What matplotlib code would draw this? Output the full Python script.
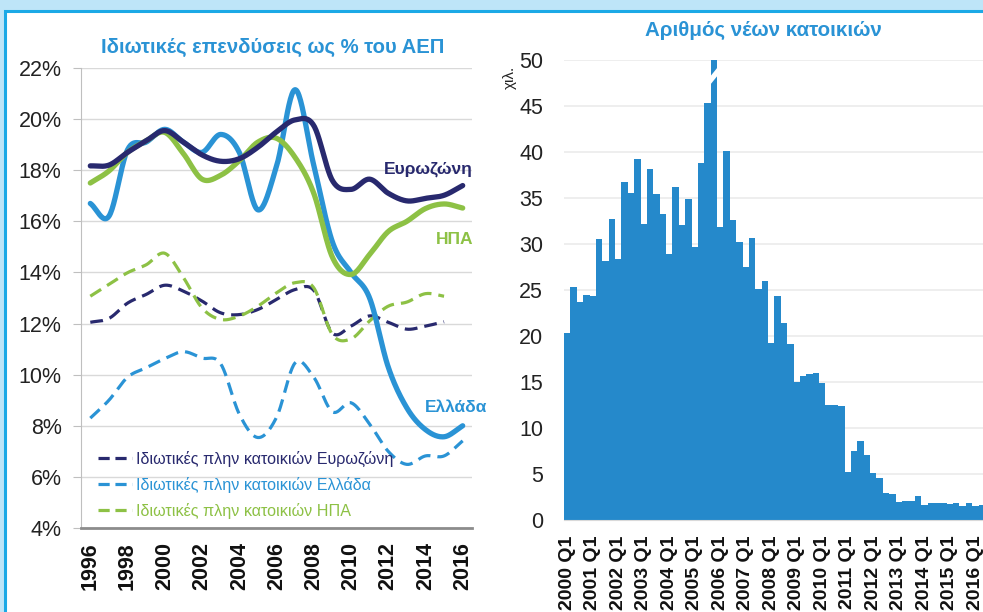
import numpy as np
import matplotlib
matplotlib.use("Agg")
import matplotlib.pyplot as plt
from matplotlib.patches import Rectangle, Polygon
from matplotlib.lines import Line2D

plt.rcParams['font.family'] = ['Liberation Sans', 'DejaVu Sans']

# --- data: private investment as % of GDP ---
years = list(range(1996, 2017))
ez_total = [18.17, 18.2, 18.7, 19.15, 19.55, 19.1, 18.6, 18.35, 18.45, 18.9, 19.5,
            19.97, 19.75, 17.6, 17.25, 17.65, 17.1, 16.8, 16.9, 17.02, 17.4]
gr_total = [16.7, 16.2, 18.8, 19.1, 19.6, 19.1, 18.7, 19.4, 18.7, 16.45, 18.15,
            21.15, 18.2, 15.2, 14.0, 13.0, 10.3, 8.7, 7.85, 7.57, 8.0]
us_total = [17.5, 17.97, 18.7, 19.15, 19.48, 18.65, 17.65, 17.8, 18.37, 19.1, 19.25,
            18.5, 17.1, 14.6, 13.92, 14.7, 15.6, 16.0, 16.5, 16.68, 16.52]

years_nr = list(range(1996, 2016))
ez_nonres = [12.05, 12.2, 12.8, 13.14, 13.5, 13.27, 12.88, 12.42, 12.35, 12.55,
             12.94, 13.33, 13.3, 11.63, 11.9, 12.3, 12.05, 11.78, 11.9, 12.07]
us_nonres = [13.07, 13.53, 13.99, 14.3, 14.75, 13.8, 12.61, 12.16, 12.29, 12.68,
             13.2, 13.6, 13.4, 11.57, 11.4, 12.1, 12.68, 12.84, 13.17, 13.07]
gr_nonres = [8.3, 9.0, 9.9, 10.27, 10.63, 10.9, 10.65, 10.43, 8.46, 7.54, 8.33,
             10.46, 9.9, 8.55, 8.9, 8.07, 7.0, 6.49, 6.82, 6.82, 7.41]

labels_nonres = ["Ιδιωτικές πλην κατοικιών Ευρωζώνη",
                 "Ιδιωτικές πλην κατοικιών Ελλάδα",
                 "Ιδιωτικές πλην κατοικιών ΗΠΑ"]

# --- data: new dwellings (thousands), quarterly from 2000 Q1 ---
dwellings = [20.3, 25.3, 23.7, 24.5, 24.3, 30.5, 28.1, 32.7, 28.4, 36.7, 35.5, 39.2,
             32.2, 38.2, 35.4, 33.3, 28.9, 36.2, 32.1, 34.9, 29.7, 38.8, 45.3, 57.0,
             31.8, 40.1, 32.6, 30.2, 27.5, 30.7, 25.1, 26.0, 19.2, 24.3, 21.4, 19.1,
             15.0, 15.7, 15.9, 16.0, 14.9, 12.5, 12.5, 12.4, 5.2, 7.5, 8.6, 7.1,
             5.1, 4.6, 2.9, 2.85, 2.0, 2.05, 2.05, 2.65, 1.65, 1.8, 1.85, 1.8,
             1.7, 1.8, 1.5, 1.9, 1.5, 1.6]
quarter_labels = [f"{y} Q1" for y in range(2000, 2017)]

NAVY = '#28296E'
BLUE = '#2A93D5'
GREEN = '#8DC145'
BAR = '#2589CB'
TITLE = '#2A93D5'


def smooth(x, y, n=24):
    # Catmull-Rom spline, same idea as Excel's smoothed line
    x = np.asarray(x, float)
    y = np.asarray(y, float)
    xp = np.concatenate([[2 * x[0] - x[1]], x, [2 * x[-1] - x[-2]]])
    yp = np.concatenate([[2 * y[0] - y[1]], y, [2 * y[-1] - y[-2]]])
    xs, ys = [], []
    t = np.linspace(0, 1, n, endpoint=False)
    for i in range(1, len(xp) - 2):
        p0, p1, p2, p3 = yp[i - 1], yp[i], yp[i + 1], yp[i + 2]
        ys.append(0.5 * (2 * p1 + (-p0 + p2) * t + (2 * p0 - 5 * p1 + 4 * p2 - p3) * t ** 2
                         + (-p0 + 3 * p1 - 3 * p2 + p3) * t ** 3))
        xs.append(xp[i] + (xp[i + 1] - xp[i]) * t)
    xs.append([x[-1]])
    ys.append([y[-1]])
    return np.concatenate(xs), np.concatenate(ys)


W, H = 983, 612
fig = plt.figure(figsize=(W / 100, H / 100), dpi=100, facecolor='#BEE5F8')
fig.patches.append(Rectangle((5 / W, -0.02), 1.0, 1 - 11 / H + 0.02, transform=fig.transFigure,
                             facecolor='white', edgecolor='#1BA9E6', linewidth=2.2, zorder=-5))

# ---------------- left chart ----------------
ax1 = fig.add_axes([81 / W, 1 - 528 / H, 391 / W, 460 / H])
ax1.set_facecolor('none')

dash = (4, 2.2)
for yy, ser, col in [(years_nr, ez_nonres, NAVY), (years_nr, us_nonres, GREEN), (years, gr_nonres, BLUE)]:
    sx, sy = smooth(yy, ser)
    ax1.plot(sx, sy, color=col, lw=2.3, dashes=dash, solid_capstyle='round')
for ser, col in [(gr_total, BLUE), (us_total, GREEN), (ez_total, NAVY)]:
    sx, sy = smooth(years, ser)
    ax1.plot(sx, sy, color=col, lw=3.8, solid_capstyle='round')

ax1.set_xlim(1995.5, 2016.5)
ax1.set_ylim(4, 22)
ax1.set_yticks(range(4, 23, 2))
ax1.set_yticklabels([f"{t}%" for t in range(4, 23, 2)])
ax1.set_xticks(range(1996, 2017, 2))
ax1.set_xticklabels([str(y) for y in range(1996, 2017, 2)], rotation=90, fontweight='bold')
ax1.yaxis.grid(True, color='#D9D9D9', lw=1)
ax1.set_axisbelow(True)
for s in ['top', 'right']:
    ax1.spines[s].set_visible(False)
ax1.spines['left'].set_color('#BFBFBF')
ax1.spines['bottom'].set_color('#8C8C8C')
ax1.spines['bottom'].set_linewidth(2)
ax1.tick_params(axis='y', length=6, color='#BFBFBF', labelsize=15.5, pad=8, labelcolor='#222222')
ax1.tick_params(axis='x', length=0, labelsize=15.5, pad=10, labelcolor='#111111')

handles = [Line2D([], [], color=c, lw=2.3, dashes=(3.5, 1.8)) for c in (NAVY, BLUE, GREEN)]
ax1.legend(handles, labels_nonres, loc='lower left', bbox_to_anchor=(0.015, -0.005), frameon=False,
           labelcolor='linecolor', fontsize=11.6, handlelength=2.1, handletextpad=0.25,
           labelspacing=0.62, borderpad=0.2)

ax1.text(2016.55, 18.05, "Ευρωζώνη", color=NAVY, fontsize=12.5, fontweight='bold', ha='right', va='center')
ax1.text(2016.55, 15.3, "ΗΠΑ", color=GREEN, fontsize=12.5, fontweight='bold', ha='right', va='center')
ax1.text(2017.3, 8.7, "Ελλάδα", color=BLUE, fontsize=12.5, fontweight='bold', ha='right', va='center',
         clip_on=False)

fig.text(273 / W, 1 - 47 / H, "Ιδιωτικές επενδύσεις ως % του ΑΕΠ", color=TITLE, fontsize=14.6,
         fontweight='bold', ha='center', va='center')

# ---------------- right chart ----------------
ax2 = fig.add_axes([564 / W, 1 - 520 / H, 1 - 564 / W, 460 / H])
ax2.set_facecolor('none')
xq = np.arange(len(dwellings))
ax2.bar(xq, dwellings, width=1.0, color=BAR, linewidth=0)
ax2.set_ylim(0, 50)
ax2.set_xlim(-0.5, 65.2)

# break mark on the bar that exceeds the axis
ib = int(np.argmax(dwellings))
ax2.add_patch(Polygon([[ib - 0.7, 47.2], [ib + 0.7, 48.4], [ib + 0.7, 49.3], [ib - 0.7, 48.1]],
                      closed=True, facecolor='white', edgecolor='none', zorder=3))

ax2.set_yticks(range(0, 51, 5))
ax2.set_xticks(range(0, len(dwellings), 4))
ax2.set_xticklabels(quarter_labels, rotation=90, fontweight='bold')
ax2.yaxis.grid(True, color='#EBEBEB', lw=1.2)
ax2.set_axisbelow(True)
for s in ['top', 'right', 'left']:
    ax2.spines[s].set_visible(False)
ax2.spines['bottom'].set_color('#D9D9D9')
ax2.tick_params(axis='y', length=0, labelsize=15.5, pad=15, labelcolor='#222222')
ax2.tick_params(axis='x', length=0, labelsize=14, pad=11, labelcolor='#111111')

fig.text(763 / W, 1 - 30 / H, "Αριθμός νέων κατοικιών", color=TITLE, fontsize=14.8,
         fontweight='bold', ha='center', va='center')
fig.text(510 / W, 1 - 77 / H, "χιλ.", color='#222222', fontsize=11, rotation=90,
         ha='center', va='center')

fig.savefig("out.png", dpi=100, facecolor=fig.get_facecolor())
